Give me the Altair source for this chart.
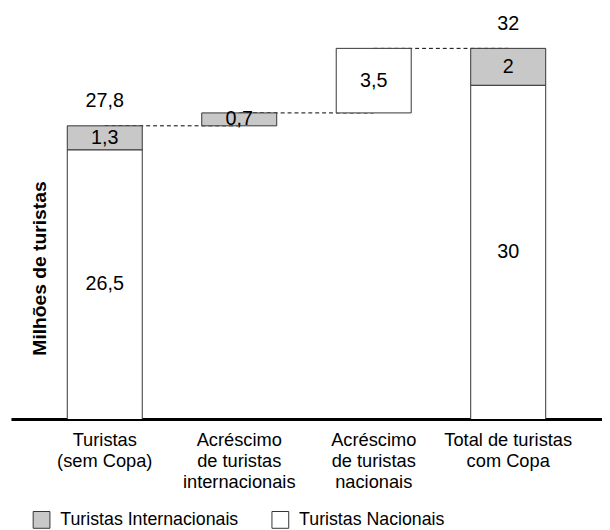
import altair as alt
import pandas as pd

# ---- data ----
categories = [
    "Turistas\n(sem Copa)",
    "Acréscimo\nde turistas\ninternacionais",
    "Acréscimo\nde turistas\nnacionais",
    "Total de turistas\ncom Copa",
]
kinds = ["total", "delta", "delta", "total"]
nacionais = [26.5, 0.0, 3.5, 30.0]
internacionais = [1.3, 0.7, 0.0, 2.0]
series_names = ["Turistas Internacionais", "Turistas Nacionais"]
series_colors = ["#c8c8c8", "#ffffff"]

# visible window of the (schematic) value axis
Y_MIN, Y_MAX = 11.9, 34.0


def fmt(v):
    return f"{round(v, 1):g}".replace(".", ",")


seg_rows, conn_rows, top_rows = [], [], []
cum = 0.0
for i, c in enumerate(categories):
    base = 0.0 if kinds[i] == "total" else cum
    y = base
    for name, val in (("Turistas Nacionais", nacionais[i]),
                      ("Turistas Internacionais", internacionais[i])):
        if val > 0:
            seg_rows.append(dict(cat=c, serie=name, y0=y, y1=y + val,
                                 label=fmt(val),
                                 mid=(max(y, Y_MIN) + y + val) / 2))
            y += val
    if kinds[i] == "total":
        top_rows.append(dict(cat=c, top=y, label=fmt(y)))
    if i > 0:
        conn_rows.append(dict(src=categories[i - 1], dst=c, level=cum))
    cum = y

seg_df = pd.DataFrame(seg_rows)
conn_df = pd.DataFrame(conn_rows)
top_df = pd.DataFrame(top_rows)

xscale = alt.Scale(domain=categories, paddingInner=0.4424, paddingOuter=0.4187)
yscale = alt.Scale(domain=[Y_MIN, Y_MAX], zero=False, nice=False)

xaxis = alt.Axis(title=None, labelExpr="split(datum.label, '\\n')", labelAngle=0,
                 ticks=False, domainColor="black", domainWidth=3,
                 labelFontSize=18.5, labelPadding=12, labelLineHeight=21,
                 labelColor="black", labelLimit=0, grid=False)
yaxis = alt.Axis(title="Milhões de turistas", labels=False, ticks=False,
                 domain=False, grid=False, titleFontSize=19.5,
                 titleFontWeight="bold", titleX=29, titleY=260, titleAngle=270,
                 titleAlign="center", titleBaseline="middle", titleColor="black")

rules = alt.Chart(conn_df).mark_rule(strokeDash=[4, 3], color="black",
                                     strokeWidth=1).encode(
    x=alt.X("src:N", scale=xscale, axis=xaxis),
    x2="dst",
    y=alt.Y("level:Q", scale=yscale, axis=yaxis),
)

bars = alt.Chart(seg_df).mark_bar(stroke="#333333", strokeWidth=1,
                                  clip=True).encode(
    x=alt.X("cat:N", scale=xscale, axis=xaxis),
    y=alt.Y("y0:Q", scale=yscale, axis=yaxis),
    y2="y1",
    fill=alt.Fill("serie:N",
                  scale=alt.Scale(domain=series_names, range=series_colors),
                  legend=alt.Legend(title=None, orient="none", legendX=22,
                                    legendY=506, direction="horizontal",
                                    symbolType="square", symbolSize=289,
                                    symbolStrokeColor="#333333",
                                    symbolStrokeWidth=1, labelFontSize=18,
                                    labelOffset=10, columnPadding=31,
                                    padding=0, labelColor="black",
                                    labelLimit=0)),
)

seg_text = alt.Chart(seg_df).mark_text(fontSize=20, baseline="middle",
                                       color="black").encode(
    x=alt.X("cat:N", scale=xscale, axis=xaxis),
    y=alt.Y("mid:Q", scale=yscale, axis=yaxis),
    text="label:N",
)

top_text = alt.Chart(top_df).mark_text(fontSize=20, baseline="alphabetic",
                                       dy=-19, color="black").encode(
    x=alt.X("cat:N", scale=xscale, axis=xaxis),
    y=alt.Y("top:Q", scale=yscale, axis=yaxis),
    text="label:N",
)

chart = alt.layer(rules, bars, seg_text, top_text).properties(
    width=599, height=413,
    padding={"left": 3, "right": 0, "top": 0, "bottom": 0}
).configure(font="Liberation Sans").configure_view(strokeWidth=0)

chart.save("out.html", embed_options={"renderer": "svg", "actions": False})
